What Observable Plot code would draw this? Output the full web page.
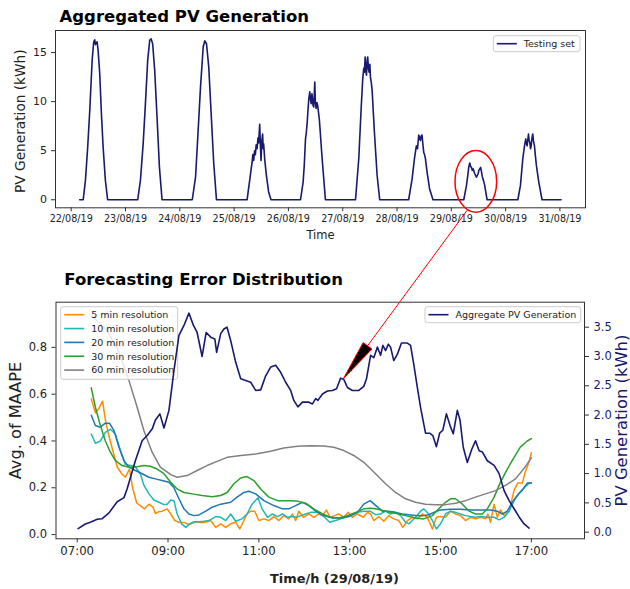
<!DOCTYPE html>
<html><head><meta charset="utf-8">
<script src="https://cdn.jsdelivr.net/npm/d3@7"></script>
<script src="https://cdn.jsdelivr.net/npm/@observablehq/plot@0.6"></script>
<style>
body{margin:0;background:#fff;}
#wrap{position:relative;width:630px;height:589px;overflow:hidden;font-family:"DejaVu Sans",sans-serif;}
#wrap svg{position:absolute;left:0;}
</style></head><body><div id="wrap"></div>
<script>
// ---------- TOP PANEL DATA: [hour of day, kWh] per day ----------
const topDays = [22, 23, 24, 25, 26, 27, 28, 29, 30];
const day22 = [[3.75,0],[5.3,0],[6.3,2.0],[7.3,5.4],[8.2,9.1],[9.25,14.2],[9.95,16.1],[10.4,16.3],[10.7,15.8],[11.0,16.0],[11.45,16.1],[11.9,15.2],[12.6,12.9],[13.35,8.8],[14.1,5.4],[15.1,2.0],[16.1,0]];
const day23 = [[5.4,0],[6.6,2.0],[7.8,5.7],[8.8,9.8],[9.8,14.2],[10.7,16.25],[11.3,16.4],[12.0,15.9],[12.9,13.2],[14.0,8.1],[15.0,3.3],[16.15,0]];
const day24 = [[5.5,0],[6.95,2.3],[7.95,6.4],[9.15,11.5],[10.35,15.6],[11.05,16.2],[11.8,15.9],[12.8,13.5],[13.85,8.8],[15.0,3.7],[16.2,0]];
const day25 = [[5.75,0],[6.25,0.9],[6.9,2.0],[7.45,3.0],[7.95,3.8],[8.25,4.6],[8.65,4.0],[9.05,5.0],[9.4,4.6],[9.75,5.6],[10.15,5.2],[10.55,6.3],[10.85,5.8],[11.3,7.7],[11.65,5.4],[11.9,4.0],[12.25,6.0],[12.6,6.7],[12.85,5.2],[13.05,5.7],[13.5,4.2],[13.85,3.4],[14.25,2.5],[15.25,0.8],[16.3,0]];
const day26 = [[5.35,0],[6.5,1.8],[7.0,3.5],[7.55,6.2],[7.9,6.8],[8.3,7.9],[9.0,10.3],[9.45,11.0],[9.75,10.2],[10.05,9.8],[10.4,10.8],[10.6,10.3],[10.9,9.6],[11.2,9.45],[11.65,12.0],[11.9,10.0],[12.25,9.3],[12.6,9.9],[12.95,9.6],[13.3,8.9],[13.7,8.1],[14.9,4.2],[16.35,0]];
const day27 = [[5.65,0],[7.1,4.2],[8.15,9.3],[8.85,12.35],[9.3,13.4],[9.6,13.0],[9.9,14.55],[10.2,13.2],[10.5,12.7],[10.8,14.2],[11.05,14.55],[11.4,13.3],[11.7,13.0],[12.0,13.8],[12.25,12.5],[12.6,12.0],[13.0,11.15],[14.0,6.9],[15.2,2.5],[16.35,0]];
const day28 = [[5.15,0],[6.65,2.1],[7.7,4.2],[8.55,5.5],[9.05,5.2],[9.6,6.6],[9.95,6.3],[10.35,6.05],[10.65,6.5],[11.05,6.6],[11.45,5.6],[11.8,4.85],[12.15,4.6],[12.55,4.2],[13.3,2.8],[14.4,1.1],[15.9,0]];
const day29 = [[5.5,0],[6.7,1.46],[7.45,2.8],[7.75,3.4],[8.15,3.75],[8.5,3.4],[8.9,3.3],[9.25,3.0],[9.65,3.15],[10.35,2.65],[11.1,2.3],[11.85,2.65],[12.15,3.0],[12.55,3.15],[12.95,3.3],[13.3,2.9],[13.65,2.4],[14.05,2.1],[14.75,1.46],[15.8,0]];
const day30 = [[5.4,0],[6.55,1.46],[7.6,4.2],[8.35,5.5],[8.9,6.2],[9.2,5.7],[9.5,5.5],[10.1,6.7],[10.4,6.0],[10.65,5.9],[11.0,5.2],[11.3,5.5],[11.6,6.2],[12.0,6.7],[12.3,6.0],[12.75,5.5],[13.1,4.6],[13.6,3.5],[14.65,1.8],[16.1,0],[24.5,0]];
const topSeries = [day22, day23, day24, day25, day26, day27, day28, day29, day30];
const topTickDays = [22, 23, 24, 25, 26, 27, 28, 29, 30, 31];
const topYTicks = [0, 5, 10, 15];

// ---------- BOTTOM PANEL DATA ----------
const hourTicks = [7, 9, 11, 13, 15, 17];
const hourTickLabels = ["07:00", "09:00", "11:00", "13:00", "15:00", "17:00"];
const maapeTicks = [0, 0.2, 0.4, 0.6, 0.8];
const pvTicks = [0, 0.5, 1.0, 1.5, 2.0, 2.5, 3.0, 3.5];
const errNames = ["5 min resolution", "10 min resolution", "20 min resolution", "30 min resolution", "60 min resolution"];
const errColors = ["#ff8c00", "#20b8b4", "#1f77b4", "#2ca02c", "#808080"];
const err5 = [[7.31,0.58],[7.40,0.52],[7.48,0.54],[7.56,0.57],[7.62,0.49],[7.70,0.42],[7.81,0.34],[7.88,0.29],[7.98,0.26],[8.06,0.245],[8.15,0.28],[8.22,0.20],[8.31,0.135],[8.39,0.124],[8.48,0.11],[8.58,0.13],[8.67,0.117],[8.72,0.09],[8.80,0.098],[8.87,0.10],[8.98,0.11],[9.06,0.088],[9.15,0.06],[9.24,0.052],[9.35,0.052],[9.46,0.043],[9.56,0.05],[9.64,0.055],[9.75,0.05],[9.86,0.055],[9.94,0.06],[10.05,0.031],[10.16,0.046],[10.27,0.031],[10.38,0.046],[10.49,0.053],[10.58,0.024],[10.67,0.06],[10.74,0.088],[10.82,0.10],[10.91,0.10],[11.00,0.06],[11.11,0.067],[11.22,0.06],[11.33,0.077],[11.44,0.06],[11.55,0.081],[11.66,0.067],[11.74,0.088],[11.81,0.06],[11.88,0.10],[11.98,0.074],[12.10,0.088],[12.21,0.074],[12.32,0.088],[12.40,0.081],[12.49,0.105],[12.56,0.074],[12.67,0.081],[12.76,0.088],[12.87,0.074],[12.97,0.095],[13.06,0.074],[13.17,0.088],[13.30,0.074],[13.39,0.095],[13.46,0.088],[13.53,0.06],[13.64,0.077],[13.75,0.057],[13.86,0.081],[13.97,0.067],[14.08,0.06],[14.17,0.031],[14.27,0.06],[14.38,0.074],[14.49,0.067],[14.60,0.088],[14.71,0.074],[14.82,0.024],[14.91,0.074],[15.00,0.077],[15.11,0.074],[15.22,0.10],[15.33,0.088],[15.44,0.081],[15.55,0.06],[15.66,0.074],[15.77,0.067],[15.88,0.074],[15.99,0.067],[16.04,0.088],[16.10,0.053],[16.18,0.13],[16.25,0.074],[16.32,0.105],[16.40,0.081],[16.51,0.10],[16.62,0.19],[16.70,0.22],[16.80,0.22],[16.87,0.27],[16.95,0.31],[17.00,0.35]];
const err10 = [[7.31,0.43],[7.40,0.39],[7.51,0.40],[7.62,0.437],[7.73,0.45],[7.84,0.43],[7.95,0.36],[8.06,0.30],[8.17,0.295],[8.28,0.29],[8.39,0.26],[8.47,0.21],[8.58,0.174],[8.69,0.148],[8.80,0.138],[8.91,0.128],[8.98,0.13],[9.06,0.148],[9.13,0.145],[9.20,0.088],[9.30,0.046],[9.39,0.031],[9.46,0.043],[9.57,0.055],[9.68,0.055],[9.79,0.057],[9.90,0.06],[10.05,0.077],[10.16,0.074],[10.27,0.06],[10.38,0.088],[10.49,0.057],[10.63,0.067],[10.74,0.088],[10.85,0.13],[10.98,0.157],[11.07,0.11],[11.19,0.074],[11.30,0.088],[11.41,0.077],[11.52,0.088],[11.63,0.074],[11.74,0.077],[11.83,0.074],[11.92,0.081],[12.03,0.088],[12.14,0.095],[12.29,0.095],[12.43,0.077],[12.56,0.053],[12.69,0.06],[12.80,0.067],[12.91,0.074],[13.02,0.081],[13.17,0.095],[13.31,0.10],[13.45,0.10],[13.57,0.085],[13.68,0.088],[13.79,0.10],[13.90,0.088],[14.01,0.095],[14.12,0.081],[14.23,0.053],[14.30,0.046],[14.38,0.06],[14.45,0.074],[14.56,0.10],[14.63,0.11],[14.74,0.088],[14.82,0.06],[14.91,0.024],[15.00,0.046],[15.11,0.088],[15.22,0.10],[15.33,0.095],[15.44,0.088],[15.55,0.081],[15.66,0.077],[15.77,0.074],[15.88,0.077],[16.03,0.074],[16.18,0.074],[16.29,0.063],[16.40,0.074],[16.51,0.10],[16.62,0.145],[16.73,0.177],[16.84,0.20],[16.95,0.22],[17.00,0.22]];
const err20 = [[7.31,0.51],[7.40,0.466],[7.51,0.459],[7.62,0.476],[7.71,0.476],[7.81,0.444],[7.92,0.373],[8.03,0.316],[8.14,0.288],[8.28,0.274],[8.43,0.26],[8.58,0.245],[8.72,0.238],[8.87,0.231],[9.02,0.224],[9.13,0.20],[9.24,0.153],[9.35,0.11],[9.46,0.088],[9.57,0.081],[9.68,0.084],[9.83,0.10],[9.97,0.117],[10.16,0.13],[10.38,0.138],[10.52,0.16],[10.67,0.18],[10.78,0.185],[10.93,0.174],[11.11,0.145],[11.33,0.124],[11.52,0.11],[11.66,0.11],[11.81,0.124],[11.96,0.138],[12.10,0.124],[12.25,0.10],[12.43,0.081],[12.62,0.071],[12.80,0.071],[12.98,0.077],[13.17,0.095],[13.31,0.13],[13.45,0.145],[13.57,0.125],[13.72,0.10],[13.86,0.10],[14.01,0.095],[14.16,0.088],[14.30,0.085],[14.45,0.082],[14.60,0.08],[14.74,0.085],[14.89,0.098],[15.00,0.105],[15.22,0.108],[15.44,0.108],[15.66,0.105],[15.88,0.105],[16.10,0.105],[16.25,0.10],[16.36,0.088],[16.47,0.10],[16.58,0.138],[16.69,0.167],[16.80,0.19],[16.91,0.22],[17.00,0.22]];
const err30 = [[7.31,0.627],[7.40,0.544],[7.51,0.466],[7.62,0.40],[7.73,0.352],[7.84,0.316],[7.99,0.295],[8.14,0.288],[8.32,0.29],[8.47,0.295],[8.61,0.292],[8.76,0.28],[8.91,0.26],[9.06,0.224],[9.20,0.195],[9.35,0.18],[9.53,0.174],[9.75,0.167],[9.97,0.162],[10.16,0.167],[10.30,0.18],[10.45,0.217],[10.60,0.242],[10.74,0.248],[10.89,0.231],[11.04,0.195],[11.22,0.16],[11.41,0.145],[11.63,0.145],[11.85,0.143],[12.03,0.134],[12.21,0.11],[12.40,0.088],[12.58,0.074],[12.76,0.071],[12.95,0.081],[13.13,0.095],[13.31,0.11],[13.45,0.113],[13.57,0.11],[13.79,0.10],[14.01,0.091],[14.23,0.081],[14.45,0.071],[14.63,0.067],[14.82,0.081],[14.96,0.11],[15.11,0.138],[15.22,0.153],[15.33,0.153],[15.48,0.13],[15.63,0.10],[15.77,0.088],[15.92,0.088],[16.03,0.11],[16.18,0.16],[16.32,0.224],[16.47,0.28],[16.62,0.33],[16.76,0.375],[16.91,0.40],[17.00,0.41]];
const err60 = [[7.31,0.936],[7.66,0.872],[7.92,0.78],[8.14,0.658],[8.32,0.544],[8.47,0.444],[8.65,0.352],[8.83,0.288],[9.06,0.256],[9.20,0.245],[9.42,0.252],[9.64,0.274],[9.86,0.295],[10.08,0.313],[10.30,0.33],[10.60,0.338],[10.96,0.345],[11.26,0.356],[11.55,0.37],[11.85,0.377],[12.14,0.38],[12.43,0.379],[12.65,0.373],[12.87,0.359],[13.09,0.338],[13.31,0.309],[13.57,0.26],[13.79,0.217],[14.01,0.18],[14.23,0.153],[14.45,0.138],[14.67,0.13],[14.89,0.128],[15.11,0.128],[15.33,0.134],[15.55,0.145],[15.77,0.16],[15.99,0.174],[16.21,0.188],[16.43,0.21],[16.65,0.238],[16.86,0.288],[17.00,0.328]];
const errSeries = [err5, err10, err20, err30, err60];
const pvName = "Aggregate PV Generation";
const pv29 = [[7.02,0.06],[7.18,0.14],[7.29,0.17],[7.44,0.22],[7.55,0.23],[7.70,0.33],[7.88,0.52],[8.03,0.59],[8.10,0.74],[8.28,1.22],[8.43,1.56],[8.54,1.65],[8.65,1.76],[8.72,1.91],[8.82,2.02],[8.91,1.78],[9.02,2.08],[9.13,2.76],[9.24,3.36],[9.35,3.53],[9.46,3.74],[9.56,3.53],[9.64,3.41],[9.75,3.00],[9.84,3.41],[9.94,3.33],[10.03,3.30],[10.07,3.07],[10.16,3.39],[10.23,3.47],[10.30,3.50],[10.38,3.27],[10.49,2.90],[10.60,2.62],[10.71,2.59],[10.82,2.56],[10.93,2.42],[11.04,2.43],[11.15,2.67],[11.26,2.82],[11.37,2.85],[11.48,2.73],[11.59,2.56],[11.70,2.42],[11.77,2.25],[11.86,2.14],[11.96,2.22],[12.10,2.22],[12.18,2.19],[12.25,2.28],[12.30,2.25],[12.40,2.36],[12.51,2.41],[12.62,2.42],[12.71,2.45],[12.80,2.63],[12.87,2.61],[12.95,2.47],[13.06,2.42],[13.20,2.42],[13.31,2.49],[13.37,2.62],[13.46,3.02],[13.53,2.98],[13.61,3.16],[13.68,3.02],[13.73,3.19],[13.79,3.10],[13.85,3.21],[13.90,3.16],[13.97,2.93],[14.05,3.04],[14.14,3.23],[14.27,3.23],[14.34,3.19],[14.41,2.87],[14.49,2.47],[14.56,2.13],[14.67,1.69],[14.76,1.69],[14.83,1.65],[14.91,1.46],[14.98,1.69],[15.05,1.74],[15.13,2.02],[15.21,1.82],[15.28,1.68],[15.37,2.08],[15.43,1.91],[15.50,1.45],[15.59,1.19],[15.69,1.42],[15.77,1.56],[15.85,1.39],[15.92,1.37],[16.03,1.22],[16.18,1.14],[16.29,1.00],[16.40,0.71],[16.51,0.54],[16.62,0.40],[16.73,0.26],[16.84,0.14],[16.95,0.07]];

// annotation anchors (data coordinates)
const circleCenter = {day: 29, hour: 11.05, v: 1.82, rxHours: 9.2, ryV: 3.14};
const arrowStart = {day: 29, hour: 7.16, v: -1.14};
const arrowTip = {hour: 12.87, pv: 2.61};

// ---------- build ----------
const navy = "#191970";
const H = 3600e3;
const utcDay = d => Date.UTC(2019, 7, d);
const topTable = topSeries.flatMap((arr, i) => arr.map(([h, v]) => ({t: new Date(utcDay(topDays[i]) + h * H), v})));
const L = [-0.018, 0.993], R = [-0.113, 3.927];
const toLeft = p => L[0] + (p - R[0]) * (L[1] - L[0]) / (R[1] - R[0]);
const fromLeft = y => R[0] + (y - L[0]) * (R[1] - R[0]) / (L[1] - L[0]);

function legend({x, y, w, h, right, rows, gap, first}) {
  return (index, scales, values, dims) => {
    const fx = right ? dims.width - dims.marginRight + x : dims.marginLeft + x;
    const fy = dims.marginTop + y;
    const g = d3.create("svg:g");
    g.append("rect").attr("x", fx).attr("y", fy).attr("width", w).attr("height", h)
      .attr("rx", 2.5).attr("fill", "#fff").attr("fill-opacity", 0.8).attr("stroke", "#cccccc").attr("stroke-width", 1);
    rows.forEach((r, i) => {
      const cy = fy + first + i * gap;
      g.append("line").attr("x1", fx + 3.5).attr("x2", fx + 23.5).attr("y1", cy).attr("y2", cy)
        .attr("stroke", r.color).attr("stroke-width", 1.6);
      g.append("text").attr("x", fx + 30.5).attr("y", cy).attr("dy", "0.35em").attr("text-anchor", "start")
        .attr("font-size", 9.5).attr("fill", "#222").attr("font-family", "DejaVu Sans").text(r.name);
    });
    return g.node();
  };
}

const style = {fontFamily: "DejaVu Sans", color: "#222", background: "transparent"};

const topChart = Plot.plot({
  width: 630, height: 255,
  marginTop: 30, marginBottom: 47.7, marginLeft: 55, marginRight: 45,
  style,
  x: {type: "utc", domain: [new Date(utcDay(22) - 6.94 * H), new Date(utcDay(31) + 11.3 * H)]},
  y: {domain: [-0.82, 17.25]},
  marks: [
    Plot.line(topTable, {x: "t", y: "v", stroke: navy, strokeWidth: 1.6}),
    Plot.frame({stroke: "#333"}),
    Plot.axisX({ticks: topTickDays.map(d => new Date(utcDay(d))), tickFormat: d3.utcFormat("%d/%m/%y"), tickSize: 4, tickPadding: 3, fontSize: 9.6, label: null, stroke: "#333"}),
    Plot.axisY({ticks: topYTicks, tickSize: 4, tickPadding: 4.5, fontSize: 11, label: null, stroke: "#333"}),
    Plot.text(["Time"], {text: d => d, frameAnchor: "bottom", textAnchor: "middle", lineAnchor: "middle", dy: 27.7, fontSize: 11.5}),
    Plot.text(["PV Generation (kWh)"], {text: d => d, frameAnchor: "left", textAnchor: "middle", lineAnchor: "middle", rotate: -90, dx: -35, dy: 2, fontSize: 13.7}),
    legend({x: -91.7, y: 5.7, w: 86.7, h: 16, right: true, first: 8, gap: 0, rows: [{name: "Testing set", color: navy}]})
  ]
});

const errMarks = errSeries.map((s, i) => Plot.line(s, {x: d => d[0], y: d => d[1], stroke: errColors[i], strokeWidth: 1.5}));

const bottomChart = Plot.plot({
  width: 630, height: 329,
  marginTop: 41.7, marginBottom: 50.7, marginLeft: 55.5, marginRight: 46,
  style,
  x: {domain: [6.533, 18.17]},
  y: {domain: L},
  marks: [
    ...errMarks,
    legend({x: 5.2, y: 5, w: 117, h: 72.6, right: false, first: 8, gap: 13.85, rows: errNames.map((n, i) => ({name: n, color: errColors[i]}))}),
    Plot.line(pv29, {x: d => d[0], y: d => toLeft(d[1]), stroke: navy, strokeWidth: 1.6}),
    Plot.frame({stroke: "#333"}),
    Plot.axisX({ticks: hourTicks, tickFormat: (d) => hourTickLabels[hourTicks.indexOf(d)], tickSize: 4, tickPadding: 3.5, fontSize: 11.7, label: null, stroke: "#333"}),
    Plot.axisY({ticks: maapeTicks, tickFormat: d => d.toFixed(1), tickSize: 4, tickPadding: 5, fontSize: 11.5, label: null, stroke: "#333"}),
    Plot.axisY({ticks: pvTicks.map(toLeft), anchor: "right", tickFormat: d => Math.abs(fromLeft(d)).toFixed(1), tickSize: 4, tickPadding: 5, fontSize: 11.5, label: null, color: navy, stroke: "#333"}),
    Plot.text(["Time/h (29/08/19)"], {text: d => d, frameAnchor: "bottom", textAnchor: "middle", lineAnchor: "middle", dy: 40, dx: 14.2, fontSize: 12.9, fontWeight: "bold"}),
    Plot.text(["Avg. of MAAPE"], {text: d => d, frameAnchor: "left", textAnchor: "middle", lineAnchor: "middle", rotate: -90, dx: -40.5, fontSize: 16.2}),
    Plot.text(["PV Generation (kWh)"], {text: d => d, frameAnchor: "right", textAnchor: "middle", lineAnchor: "middle", rotate: -90, dx: 37.5, fontSize: 16.4, fill: navy}),
    legend({x: -159, y: 5, w: 155.7, h: 16, right: true, first: 8, gap: 0, rows: [{name: pvName, color: navy}]})
  ]
});

const wrap = document.getElementById("wrap");
topChart.style.top = "0px";
bottomChart.style.top = "260px";
wrap.appendChild(topChart);
wrap.appendChild(bottomChart);

// ---------- overlay: titles + annotation ----------
const ov = d3.select(wrap).append("svg").attr("width", 630).attr("height", 589).style("top", "0px")
  .attr("font-family", "DejaVu Sans");
ov.append("text").attr("x", 59.5).attr("y", 22).attr("font-size", 16.5).attr("font-weight", "bold").attr("fill", "#000").text("Aggregated PV Generation");
ov.append("text").attr("x", 64.3).attr("y", 285.3).attr("font-size", 16.5).attr("font-weight", "bold").attr("fill", "#000").text("Forecasting Error Distribution");

const xT = topChart.scale("x"), yT = topChart.scale("y");
const xB = bottomChart.scale("x"), yB = bottomChart.scale("y");
const cT = utcDay(circleCenter.day) + circleCenter.hour * H;
const cx = xT.apply(new Date(cT)), cy = yT.apply(circleCenter.v);
const rx = xT.apply(new Date(cT + circleCenter.rxHours * H)) - cx;
const ry = yT.apply(circleCenter.v - circleCenter.ryV) - cy;
ov.append("ellipse").attr("cx", cx).attr("cy", cy).attr("rx", rx).attr("ry", ry)
  .attr("fill", "none").attr("stroke", "#ff0000").attr("stroke-width", 1.5);

const sx = xT.apply(new Date(utcDay(arrowStart.day) + arrowStart.hour * H)), sy = yT.apply(arrowStart.v);
const tx = xB.apply(arrowTip.hour), ty = yB.apply(toLeft(arrowTip.pv)) + 260;
const dxv = sx - tx, dyv = sy - ty, len = Math.hypot(dxv, dyv);
const ux = dxv / len, uy = dyv / len, headLen = 41, headHalf = 5.5;
const bx = tx + ux * headLen, by = ty + uy * headLen;
ov.append("line").attr("x1", sx).attr("y1", sy).attr("x2", bx).attr("y2", by).attr("stroke", "#ff0000").attr("stroke-width", 1);
ov.append("polygon").attr("points", [[tx, ty], [bx - uy * headHalf, by + ux * headHalf], [bx + uy * headHalf, by - ux * headHalf]].map(p => p.join(",")).join(" "))
  .attr("fill", "#000").attr("stroke", "#ff0000").attr("stroke-width", 1);
</script></body></html>
